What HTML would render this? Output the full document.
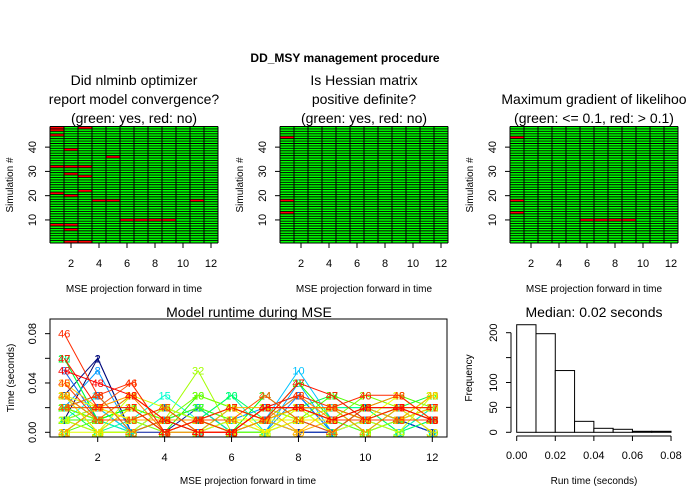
<!DOCTYPE html>
<html><head><meta charset="utf-8"><style>
body{margin:0;background:#fff}
svg{display:block;font-family:"Liberation Sans",Arial,sans-serif}
</style></head><body>
<svg id="c" width="690" height="500" viewBox="0 0 690 500">
<text x="345" y="62" text-anchor="middle" font-size="12" font-weight="bold">DD_MSY management procedure</text>
</svg>
<script>
// ---- heatmap data (sim, column) of red cells ----
const nSims = 48;
const nCols = 12;
const convRed = [[48,1],[48,3],[47,1],[45,1],[39,2],[36,5],[32,1],[32,2],[32,3],[29,2],[28,3],[22,3],[21,1],[20,2],[18,4],[18,5],[18,11],[10,6],[10,7],[10,8],[10,9],[8,1],[8,2],[6,2],[1,2],[1,3]];
const hessRed = [[44,1],[18,1],[13,1]];
const gradRed = [[44,1],[18,1],[13,1],[10,6],[10,7],[10,8],[10,9]];
const heatTitles = [["Did nlminb optimizer","report model convergence?","(green: yes, red: no)"],["Is Hessian matrix","positive definite?","(green: yes, red: no)"],["Maximum gradient of likelihoo","(green: <= 0.1, red: > 0.1)"]];
const xTicks = [2,4,6,8,10,12];
const yTicks = [10,20,30,40];
// ---- runtime data: hundredths of a second per sim, 12 projections ----
const runtimes = [
"160210100210","360120230110","230020110210","120110100111","020101121110","510120130121",
"230210030221","250201222102","210121040111","300110151111","121100220120","320211012012",
"130210121011","211001120111","221310022201","610113012102","101120122021","021102122211",
"311102121220","211113111201","202112121212","612110023123","100111122013","212010312111",
"312111122112","212032141111","111210120221","013121013232","302110211022","022132121320",
"211010021112","300150211222","121201122011","103210221103","000201112113","321112020131",
"021111011121","302000121120","423110102112","311102201213","023112122022","313000131231",
"230100222111","224011310221","411200221111","834010232331","622012143122","543100221221"];
const histBreaks = [0,0.01,0.02,0.03,0.04,0.05,0.06,0.07,0.08];
const histCounts = [216,198,124,22,8,6,2,2];
const histYTicks = [0,50,100,150,200];
const histYLabels = ["0","50","100","","200"];
const histXTicks = [0,0.02,0.04,0.06,0.08];
const rtYTicks = [0,0.02,0.04,0.06,0.08];
const rtYLabels = ["0.00","","0.04","","0.08"];

const svg = document.getElementById('c');
const NS = 'http://www.w3.org/2000/svg';
function mk(tag, attrs, parent){const e=document.createElementNS(NS,tag);for(const k in attrs)e.setAttribute(k,attrs[k]);(parent||svg).appendChild(e);return e;}
function txt(x,y,s,size,anchor,rot,parent,fill){const a={x:x,y:y,'font-size':size,'text-anchor':anchor||'middle',fill:fill||'#000'};if(rot)a.transform='rotate(-90 '+x+' '+y+')';const t=mk('text',a,parent);t.textContent=s;return t;}

// ---- heatmaps ----
const panels = [[50,convRed,0],[280,hessRed,1],[510,gradRed,2]];
panels.forEach(([x0,reds,pi])=>{
  const g = mk('g',{});
  
  
  const top=126.5, bot=243, w=168;
  const sx = c => x0 + (c-0.5)*w/nCols;
  const sy = s => bot - (s-0.5)*(bot-top)/nSims;
  const cw = w/nCols, ch=(bot-top)/nSims;
  mk('rect',{x:x0,y:top,width:w,height:bot-top,fill:'#00ff00'},g);
  reds.forEach(([s,c])=>{
    const r = mk('rect',{x:sx(c)-cw/2,y:sy(s)-ch/2,width:cw,height:ch,fill:'#ff0000'},g);
    
    
  });
  for(let s=0;s<=nSims;s++){const y=sy(s+0.5);mk('line',{x1:x0,x2:x0+w,y1:y,y2:y,stroke:'#000','stroke-width':0.9},g);}
  for(let c=0;c<=nCols;c++){const x=sx(c+0.5);mk('line',{x1:x,x2:x,y1:top,y2:bot,stroke:'#000','stroke-width':1},g);}
  xTicks.forEach(t=>{mk('line',{x1:sx(t),x2:sx(t),y1:bot,y2:bot+5,stroke:'#000'},g);txt(sx(t),267,String(t),11,'middle',0,g);});
  yTicks.forEach(t=>{mk('line',{x1:x0,x2:x0-5,y1:sy(t),y2:sy(t),stroke:'#000'},g);txt(x0-14,sy(t),String(t),11,'middle',1,g);});
  const xt=txt(x0+w/2,292,'MSE projection forward in time',10,'middle',0,g);
  
  const yt=txt(x0-37,185,'Simulation #',10,'middle',1,g);
  
  const lines=heatTitles[pi];
  const ys = lines.length===3?[85,104,123]:[104,123];
  lines.forEach((l,i)=>{const t=txt(x0+w/2,ys[i],l,14,'middle',0,g);});
});

// ---- runtime line chart ----
(function(){
  const g=mk('g',{});
  
  
  const L=50,R=447,T=319,B=437;
  const sx = c => 97.7 + (c-2)*33.46;
  const sy = v => 432.3 - v*1233;
  function col(i){const t=(i-1)/47;const h=240*(1-t);const l=t<0.12?20+t*250:50;return 'hsl('+h.toFixed(0)+',100%,'+l.toFixed(0)+'%)';}
  runtimes.forEach((s,i)=>{
    const vals=s.split('').map(d=>Number(d)/100);
    const c=col(i+1);
    const p=mk('polyline',{points:vals.map((v,j)=>sx(j+1)+','+sy(v)).join(' '),fill:'none',stroke:c,'stroke-width':1},g);
    
    
    vals.forEach((v,j)=>{const t=txt(sx(j+1),sy(v)+4,String(i+1),11,'middle',0,g,c);});
  });
  mk('rect',{x:L,y:T,width:R-L,height:B-T,fill:'none',stroke:'#000'},g);
  xTicks.forEach(t=>{mk('line',{x1:sx(t),x2:sx(t),y1:B,y2:B+5,stroke:'#000'},g);txt(sx(t),461,String(t),11,'middle',0,g);});
  rtYTicks.forEach((t,i)=>{mk('line',{x1:L,x2:L-5,y1:sy(t),y2:sy(t),stroke:'#000'},g);if(rtYLabels[i])txt(L-14,sy(t),rtYLabels[i],11,'middle',1,g);});
  const a=txt(248,484,'MSE projection forward in time',10,'middle',0,g);
  const b=txt(14,378,'Time (seconds)',10,'middle',1,g);
  const c=txt(249,317,'Model runtime during MSE',14,'middle',0,g);
})();

// ---- histogram ----
(function(){
  const g=mk('g',{});
  
  
  const sx=v=>516.7+v*1929;
  const sy=n=>432.3-n*0.498;
  histCounts.forEach((n,i)=>{
    const r=mk('rect',{x:sx(histBreaks[i]),y:sy(n),width:sx(histBreaks[i+1])-sx(histBreaks[i]),height:sy(0)-sy(n),fill:'#fff',stroke:'#000'},g);
    
    
  });
  mk('line',{x1:sx(0),x2:sx(0.08),y1:436,y2:436,stroke:'#000'},g);
  histXTicks.forEach(t=>{mk('line',{x1:sx(t),x2:sx(t),y1:436,y2:441,stroke:'#000'},g);txt(sx(t),459,t.toFixed(2),11,'middle',0,g);});
  mk('line',{x1:511,x2:511,y1:sy(0),y2:sy(200),stroke:'#000'},g);
  histYTicks.forEach((t,i)=>{mk('line',{x1:511,x2:506,y1:sy(t),y2:sy(t),stroke:'#000'},g);if(histYLabels[i])txt(497,sy(t),histYLabels[i],11,'middle',1,g);});
  const a=txt(594,484,'Run time (seconds)',10,'middle',0,g);
  const b=txt(472,378,'Frequency',10,'middle',1,g);
  const c=txt(594,317,'Median: 0.02 seconds',14,'middle',0,g);
})();
</script>
</body></html>
